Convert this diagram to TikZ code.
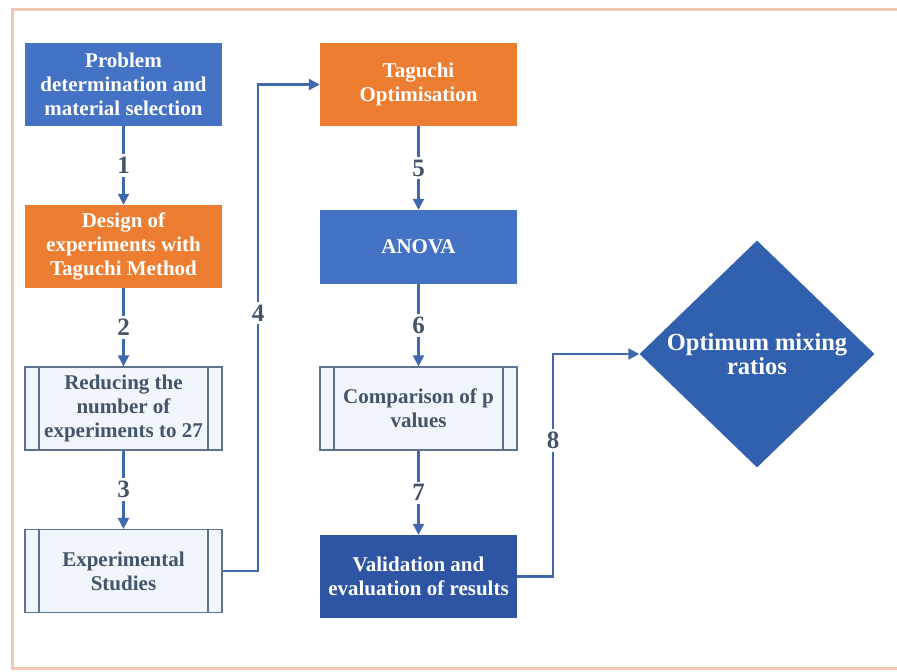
\documentclass[tikz,border=0pt]{standalone}
\usepackage{fontspec}
\setmainfont{Liberation Serif}
\usetikzlibrary{arrows.meta,shapes.geometric}
\definecolor{boxblue}{HTML}{4472C4}
\definecolor{boxorange}{HTML}{ED7D31}
\definecolor{boxdark}{HTML}{2E55A3}
\definecolor{diamblue}{HTML}{3161AE}
\definecolor{slate}{HTML}{44546A}
\definecolor{linkblue}{HTML}{4068AE}
\definecolor{framepeach}{HTML}{F2C9B4}
\definecolor{procfill}{HTML}{F1F5FC}
\definecolor{procline}{HTML}{5E7190}
\begin{document}
\begin{tikzpicture}[x=1pt,y=-1pt,
    stepbox/.style={rectangle, minimum width=197pt, minimum height=83pt, inner sep=0pt,
        align=center, text=white, font=\fontsize{21}{24}\selectfont\bfseries},
    bluebox/.style={stepbox, fill=boxblue},
    orangebox/.style={stepbox, fill=boxorange},
    darkbox/.style={stepbox, fill=boxdark},
    procbox/.style={stepbox, text=slate, fill=procfill, draw=procline, line width=1.2pt,
        path picture={
            \draw[procline, line width=1.2pt]
                ([xshift=14pt]path picture bounding box.north west) --
                ([xshift=14pt]path picture bounding box.south west)
                ([xshift=-14pt]path picture bounding box.north east) --
                ([xshift=-14pt]path picture bounding box.south east);
        }},
    result/.style={diamond, fill=diamblue, minimum width=235pt, minimum height=227pt,
        inner sep=0pt, align=center, text=white, font=\fontsize{24.5}{24}\selectfont\bfseries},
    conn/.style={linkblue, line width=2.2pt, -{Triangle[length=11pt,width=11pt]}},
    lbl/.style={fill=white, inner sep=3pt, text=slate, font=\fontsize{25}{26}\selectfont\bfseries}
]
    \useasboundingbox (0,0) rectangle (897,672);
    \draw[framepeach, line width=3pt] (12,9) rectangle (910,668);

    % left column
    \node[bluebox] (problem) at (123.5,84) {Problem\\determination and\\material selection};
    \node[orangebox] (design) at (123.5,246.5) {Design of\\experiments with\\Taguchi Method};
    \node[procbox] (reduce) at (123.5,408.5) {Reducing the\\number of\\experiments to 27};
    \node[procbox] (studies) at (123.5,571) {Experimental\\Studies};

    % middle column
    \node[orangebox] (optim) at (418.5,84.5) {Taguchi\\Optimisation};
    \node[bluebox, minimum height=74pt] (anova) at (418.5,247) {ANOVA};
    \node[procbox] (compare) at (418.5,408.5) {Comparison of p\\values};
    \node[darkbox] (valid) at (418.5,576.5) {Validation and\\evaluation of results};

    % result
    \node[result] (ratios) at (757,354) {Optimum mixing\\ratios};

    % connectors
    \draw[conn] (problem) -- node[lbl] {1} (design);
    \draw[conn] (design) -- node[lbl] {2} (reduce);
    \draw[conn] (reduce) -- node[lbl] {3} (studies);
    \coordinate (bend4) at (258,571);
    \draw[conn] (studies.east) -- (bend4) -- node[lbl, pos=0.53] {4} (bend4 |- optim.west) -- (optim.west);
    \draw[conn] (optim) -- node[lbl] {5} (anova);
    \draw[conn] (anova) -- node[lbl] {6} (compare);
    \draw[conn] (compare) -- node[lbl] {7} (valid);
    \coordinate (bend8) at (553,576.5);
    \draw[conn] (valid.east) -- (bend8) -- node[lbl, pos=0.61] {8} (bend8 |- ratios.west) -- (ratios.west);
\end{tikzpicture}
\end{document}
